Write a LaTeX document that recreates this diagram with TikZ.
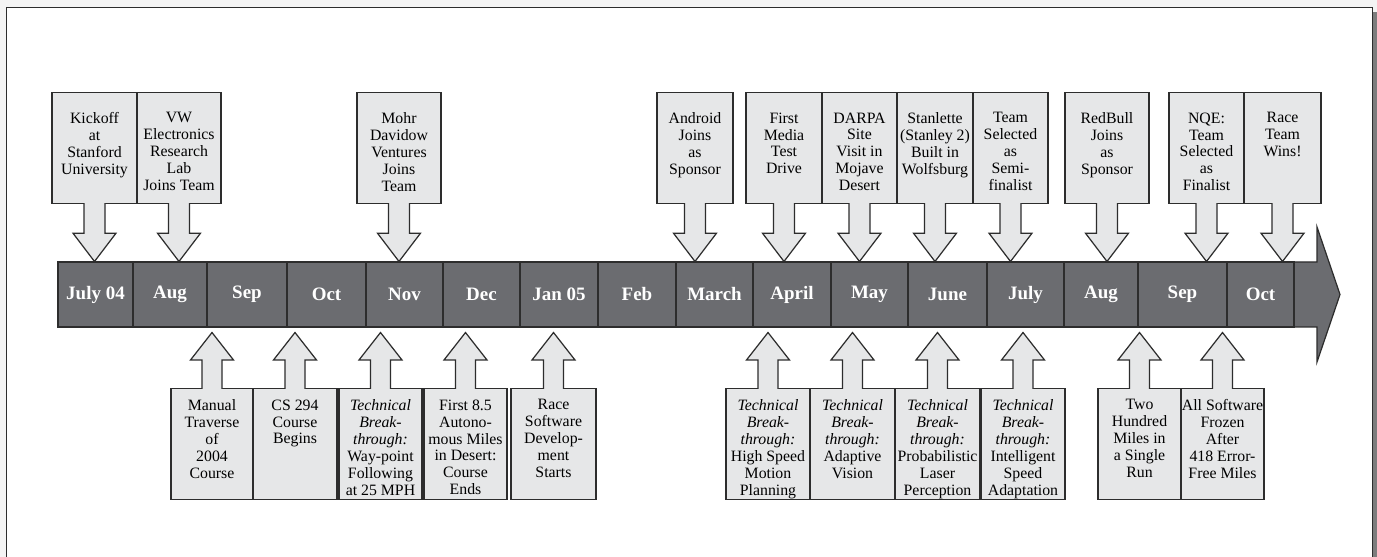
\documentclass[tikz,border=0pt]{standalone}
\usepackage{fontspec}
\setmainfont{Liberation Serif}
\usepackage{tikz}
\usetikzlibrary{calc}

\definecolor{bargray}{RGB}{107,108,112}
\definecolor{boxgray}{RGB}{230,231,232}
\definecolor{edgegray}{RGB}{45,45,45}
\definecolor{pagegray}{RGB}{244,244,244}
\definecolor{shadegray}{RGB}{125,125,125}

\newcommand{\calloutfont}{\fontsize{9}{9.64}\selectfont}
\newcommand{\monthfont}{\fontsize{10.8}{12}\selectfont\bfseries}
\newcommand{\techbreak}{{\itshape Technical\\Break-\\through:}}

\begin{document}
\begin{tikzpicture}[x=0.02cm,y=-0.02cm,line join=miter]
  \tikzstyle{month}=[draw=edgegray,fill=bargray,text=white,font=\monthfont,minimum height=1.3cm,inner sep=0pt,line width=0.6pt]
  \tikzset{
    callbox/.style 2 args={draw=edgegray,fill=boxgray,line width=0.7pt,inner sep=0pt,
      execute at begin node={\begin{minipage}[t][2.22cm][t]{#1}\calloutfont\centering\vspace*{#2}},
      execute at end node={\end{minipage}}},
    topbox/.style={callbox={#1}{0.4cm},anchor=north},
    lowbox/.style={callbox={#1}{0.22cm},anchor=north},
    downblock/.style={draw=edgegray,fill=boxgray,line width=0.7pt,to path={
      ($(\tikztostart.south)+(-10.5,-1)$) -- ($(\tikztostart.south)+(-10.5,29)$)
      -- ($(\tikztostart.south)+(-21.5,29)$) -- (\tikztostart.south |- \tikztotarget.north)
      -- ($(\tikztostart.south)+(21.5,29)$) -- ($(\tikztostart.south)+(10.5,29)$)
      -- ($(\tikztostart.south)+(10.5,-1)$)}},
    upblock/.style={draw=edgegray,fill=boxgray,line width=0.7pt,to path={
      ($(\tikztostart.north)+(-10,1)$) -- ($(\tikztostart.north)+(-10,-28)$)
      -- ($(\tikztostart.north)+(-21.5,-28)$) -- ($(\tikztostart.north |- \tikztotarget.south)+(0,5)$)
      -- ($(\tikztostart.north)+(21.5,-28)$) -- ($(\tikztostart.north)+(10,-28)$)
      -- ($(\tikztostart.north)+(10,1)$)}}
  }

  % page and frame
  \path[use as bounding box,clip] (0,0) rectangle (1377,557);
  \fill[pagegray] (0,0) rectangle (1377,557);
  \fill[shadegray] (1372,12) rectangle (1377,557);
  \draw[edgegray,line width=1.1pt,fill=white] (6.5,7.5) rectangle (1372.5,580);

  % time line
  \draw[edgegray,fill=bargray,line width=0.7pt] (58,262) -- (1317,262) -- (1317,227) -- (1340,294.5)
    -- (1317,362) -- (1317,327) -- (58,327) -- cycle;

  \node[month,minimum width=1.50cm] at (  95.5,294.5) (jul04) {July 04};
  \node[month,minimum width=1.48cm] at ( 170.0,294.5) (aug04) {Aug};
  \node[month,minimum width=1.60cm] at ( 247.0,294.5) (sep04) {Sep};
  \node[month,minimum width=1.58cm] at ( 326.5,294.5) (oct04) {Oct};
  \node[month,minimum width=1.54cm] at ( 404.5,294.5) (nov04) {Nov};
  \node[month,minimum width=1.54cm] at ( 481.5,294.5) (dec04) {Dec};
  \node[month,minimum width=1.56cm] at ( 559.0,294.5) (jan05) {Jan 05};
  \node[month,minimum width=1.56cm] at ( 637.0,294.5) (feb05) {Feb};
  \node[month,minimum width=1.54cm] at ( 714.5,294.5) (mar05) {March};
  \node[month,minimum width=1.56cm] at ( 792.0,294.5) (apr05) {April};
  \node[month,minimum width=1.54cm] at ( 869.5,294.5) (may05) {May};
  \node[month,minimum width=1.58cm] at ( 947.5,294.5) (jun05) {June};
  \node[month,minimum width=1.54cm] at (1025.5,294.5) (jul05) {July};
  \node[month,minimum width=1.48cm] at (1101.0,294.5) (aug05) {Aug};
  \node[month,minimum width=1.78cm] at (1182.5,294.5) (sep05) {Sep};
  \node[month,minimum width=1.34cm] at (1260.5,294.5) (oct05) {Oct};

  % events above
  \node[topbox=1.70cm] at (  94.5,92) (kickoff)   {Kickoff\\at\\Stanford\\University};
  \node[topbox=1.68cm] at ( 179.0,92) (vwerl)     {VW\\Electronics\\Research\\Lab\\Joins Team};
  \node[topbox=1.68cm] at ( 399.0,92) (mohr)      {Mohr\\Davidow\\Ventures\\Joins\\Team};
  \node[topbox=1.52cm] at ( 695.0,92) (android)   {Android\\Joins\\as\\Sponsor};
  \node[topbox=1.52cm] at ( 784.0,92) (media)     {First\\Media\\Test\\Drive};
  \node[topbox=1.50cm] at ( 859.5,92) (darpa)     {DARPA\\Site\\Visit in\\Mojave\\Desert};
  \node[topbox=1.52cm] at ( 935.0,92) (stanlette) {Stanlette\\(Stanley 2)\\Built in\\Wolfsburg};
  \node[topbox=1.50cm] at (1010.5,92) (semi)      {Team\\Selected\\as\\Semi-\\finalist};
  \node[topbox=1.68cm] at (1107.0,92) (redbull)   {RedBull\\Joins\\as\\Sponsor};
  \node[topbox=1.50cm] at (1206.5,92) (nqe)       {NQE:\\Team\\Selected\\as\\Finalist};
  \node[topbox=1.54cm] at (1282.5,92) (wins)      {Race\\Team\\Wins!};

  % events below
  \node[lowbox=1.64cm] at ( 212.0,388) (manual)     {Manual\\Traverse\\of\\2004\\Course};
  \node[lowbox=1.68cm] at ( 295.0,388) (cs)         {CS 294\\Course\\Begins};
  \node[lowbox=1.66cm] at ( 380.5,388) (waypoint)   {\techbreak\\Way-point\\Following\\at 25 MPH};
  \node[lowbox=1.66cm] at ( 465.5,388) (desert)     {First 8.5\\Autono-\\mous Miles\\in Desert:\\Course\\Ends};
  \node[lowbox=1.70cm] at ( 553.5,388) (racesw)     {Race\\Software\\Develop-\\ment\\Starts};
  \node[lowbox=1.68cm] at ( 768.0,388) (motion)     {\techbreak\\High Speed\\Motion\\Planning};
  \node[lowbox=1.70cm] at ( 852.5,388) (vision)     {\techbreak\\Adaptive\\Vision};
  \node[lowbox=1.70cm] at ( 937.5,388) (laser)      {\techbreak\\Probabilistic\\Laser\\Perception};
  \node[lowbox=1.68cm] at (1023.0,388) (speed)      {\techbreak\\Intelligent\\Speed\\Adaptation};
  \node[lowbox=1.66cm] at (1139.5,388) (twohundred) {Two\\Hundred\\Miles in\\a Single\\Run};
  \node[lowbox=1.66cm] at (1222.5,388) (frozen)     {All Software\\Frozen\\After\\418 Error-\\Free Miles};

  \path (kickoff)   edge[downblock] (jul04)
        (vwerl)     edge[downblock] (aug04)
        (mohr)      edge[downblock] (nov04)
        (android)   edge[downblock] (mar05)
        (media)     edge[downblock] (apr05)
        (darpa)     edge[downblock] (may05)
        (stanlette) edge[downblock] (jun05)
        (semi)      edge[downblock] (jul05)
        (redbull)   edge[downblock] (aug05)
        (nqe)       edge[downblock] (sep05)
        (wins)      edge[downblock] (oct05);

  \path (manual)     edge[upblock] (sep04)
        (cs)         edge[upblock] (oct04)
        (waypoint)   edge[upblock] (nov04)
        (desert)     edge[upblock] (dec04)
        (racesw)     edge[upblock] (jan05)
        (motion)     edge[upblock] (apr05)
        (vision)     edge[upblock] (may05)
        (laser)      edge[upblock] (jun05)
        (speed)      edge[upblock] (jul05)
        (twohundred) edge[upblock] (sep05)
        (frozen)     edge[upblock] (oct05);
\end{tikzpicture}
\end{document}
